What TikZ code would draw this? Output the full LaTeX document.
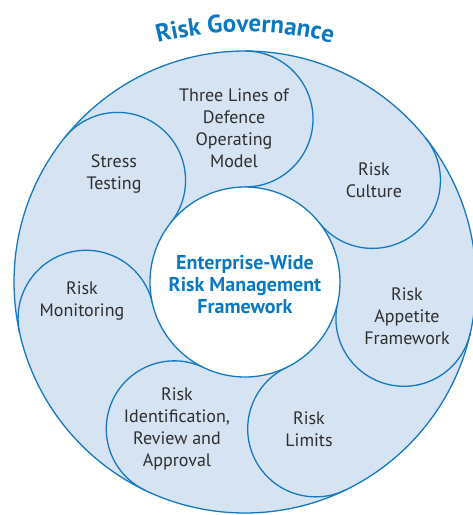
\documentclass[tikz,border=0pt]{standalone}
\usepackage{fontspec}
\setmainfont{PT Sans}
\usetikzlibrary{decorations.text}
\definecolor{rgline}{HTML}{1479C0}
\definecolor{rgfill}{HTML}{D6E3F2}
\definecolor{rgtext}{HTML}{2E2E30}
\definecolor{rgtitle}{HTML}{0B78C0}
\begin{document}
\begin{tikzpicture}[x=1pt,y=1pt,
	ring/.style={draw=rgline,line width=1.3pt},
	label/.style={align=center,text=rgtext,font=\fontsize{18}{22}\selectfont},
	core/.style={align=center,text=rgtitle,font=\fontsize{20}{22}\selectfont\bfseries}]
		\clip (-245,-233) rectangle (228,282);
		\path[fill=rgfill,ring] (0,0) circle[radius=231];
		\draw[ring] (90:231) arc[start angle=90,end angle=-90,radius=68];
		\draw[ring] (141.43:231) arc[start angle=141.43,end angle=-38.57,radius=68];
		\draw[ring] (192.86:231) arc[start angle=192.86,end angle=12.86,radius=68];
		\draw[ring] (244.29:231) arc[start angle=244.29,end angle=64.29,radius=68];
		\draw[ring] (295.71:231) arc[start angle=295.71,end angle=115.71,radius=68];
		\draw[ring] (347.14:231) arc[start angle=347.14,end angle=167.14,radius=68];
		\draw[ring] (38.57:231) arc[start angle=38.57,end angle=-141.43,radius=68];
		\path[fill=white,ring] (0,0) circle[radius=95];
		\path[decorate,decoration={text along path,text align=center,
			text={|\fontsize{25}{25}\selectfont\bfseries\color{rgtitle}|Risk Governance}}]
			(120:350) ++(0,-100) arc[start angle=120,end angle=60,radius=350];
		\node(erm)[core] at (0,-3) {Enterprise-Wide\\Risk Management\\Framework};
		\node(lod)[label] at (-11,154) {Three Lines of\\Defence\\Operating\\Model};
		\node(stress)[label] at (-131,108) {Stress\\Testing};
		\node(culture)[label] at (129,102) {Risk\\Culture};
		\node(appetite)[label] at (162,-34) {Risk\\Appetite\\Framework};
		\node(limits)[label] at (64,-147) {Risk\\Limits};
		\node(ident)[label] at (-68,-147) {Risk\\Identification,\\Review and\\Approval};
		\node(monitor)[label] at (-163,-19) {Risk\\Monitoring};
	\end{tikzpicture}
\end{document}
